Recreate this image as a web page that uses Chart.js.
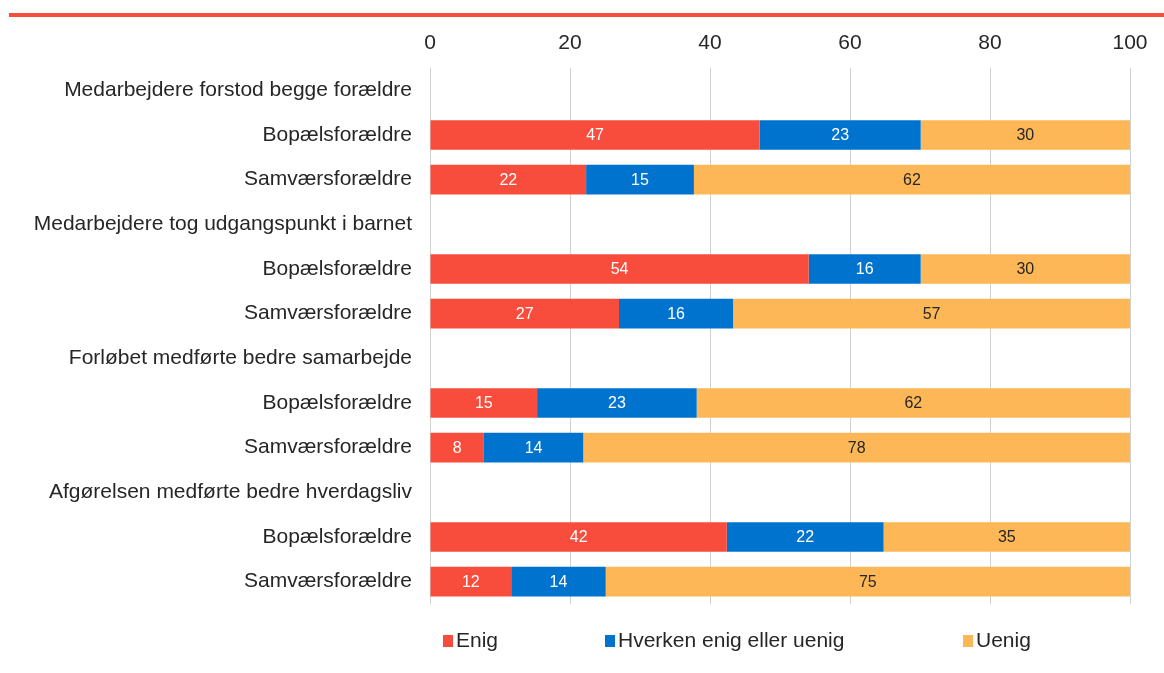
<!DOCTYPE html>
<html>
<head>
<meta charset="utf-8">
<script src="https://cdn.jsdelivr.net/npm/chart.js@4"></script>
<style>
  html, body { margin: 0; padding: 0; background: #fff; }
  #wrap { position: relative; width: 1164px; height: 673px; font-family: 'Liberation Sans', Arial, sans-serif; }
  #topline { position: absolute; left: 9px; right: 0; top: 13px; height: 4px; background: #f84c3c; }
  #chart { position: absolute; left: 0; top: 0; }
  .leg { position: absolute; top: 627px; font-size: 21px; color: #262626; white-space: nowrap; line-height: 26px; }
  .leg i { display: inline-block; width: 10px; height: 12px; margin-right: 3px; vertical-align: 0px; }
</style>
</head>
<body>
<div id="wrap">
  <div id="topline"></div>
  <canvas id="chart" width="1164" height="673"></canvas>
  <div id="legend"></div>
</div>
<script>
   // Survey answers, percent
   const categories = [
       'Medarbejdere forstod begge forældre', 'Bopælsforældre', 'Samværsforældre',
       'Medarbejdere tog udgangspunkt i barnet', 'Bopælsforældre', 'Samværsforældre',
       'Forløbet medførte bedre samarbejde', 'Bopælsforældre', 'Samværsforældre',
       'Afgørelsen medførte bedre hverdagsliv', 'Bopælsforældre', 'Samværsforældre'
   ];
   const enig    = [null, 47.1, 22.3, null, 54.1, 27.0, null, 15.3, 7.7, null, 42.4, 11.6];
   const hverken = [null, 23.0, 15.4, null, 16.0, 16.3, null, 22.8, 14.2, null, 22.4, 13.5];
   const uenig   = [null, 29.9, 62.3, null, 29.9, 56.7, null, 61.9, 78.1, null, 35.2, 74.9];
   const xTicks  = [0, 20, 40, 60, 80, 100];

   const font = "'Liberation Sans', Arial, sans-serif";

   // draws the rounded value inside each bar segment
   const barLabels = {
       id: 'barLabels',
       afterDatasetsDraw(chart) {
           const ctx = chart.ctx;
           ctx.save();
           ctx.font = '16px ' + font;
           ctx.textAlign = 'center';
           ctx.textBaseline = 'middle';
           chart.data.datasets.forEach((ds, i) => {
               chart.getDatasetMeta(i).data.forEach((el, j) => {
                   const v = ds.data[j];
                   if (v === null) return;
                   ctx.fillStyle = ds.labelColor;
                   ctx.fillText(Math.round(v), (el.x + el.base) / 2, el.y + 1);
               });
           });
           ctx.restore();
       }
   };

   const chart = new Chart(document.getElementById('chart').getContext('2d'), {
       type: 'bar',
       data: {
           labels: categories,
           datasets: [{
               label: 'Enig',
               data: enig,
               backgroundColor: '#f84c3c',
               labelColor: '#ffffff'
           }, {
               label: 'Hverken enig eller uenig',
               data: hverken,
               backgroundColor: '#0073cf',
               labelColor: '#ffffff'
           }, {
               label: 'Uenig',
               data: uenig,
               backgroundColor: '#fdb757',
               labelColor: '#262626'
           }]
       },
       options: {
           indexAxis: 'y',
           responsive: false,
           animation: false,
           barPercentage: 0.9,
           categoryPercentage: 0.74,
           layout: { padding: { left: 20, right: 34, top: 28, bottom: 69 } },
           plugins: {
               legend: { display: false },
               tooltip: { enabled: false }
           },
           scales: {
               x: {
                   position: 'top',
                   stacked: true,
                   min: 0,
                   max: 100,
                   afterBuildTicks: (s) => { s.ticks = xTicks.map(v => ({ value: v })); },
                   afterFit: (s) => { s.height = 40; },
                   border: { display: false },
                   grid: { color: '#d0d0d0', drawTicks: false },
                   ticks: { color: '#262626', padding: 12, font: { family: font, size: 21 } }
               },
               y: {
                   stacked: true,
                   afterFit: (s) => { s.width = 410; },
                   border: { display: false },
                   grid: { display: false },
                   ticks: { color: '#262626', padding: 10, font: { family: font, size: 21 } }
               }
           }
       },
       plugins: [barLabels]
   });

   // legend below the plot, built from the datasets
   const legendLeft = [443, 605, 963];
   const legendEl = document.getElementById('legend');
   chart.data.datasets.forEach((ds, i) => {
       const item = document.createElement('div');
       item.className = 'leg';
       item.style.left = legendLeft[i] + 'px';
       item.innerHTML = '<i style="background:' + ds.backgroundColor + '"></i>' + ds.label;
       legendEl.appendChild(item);
   });
</script>
</body>
</html>
